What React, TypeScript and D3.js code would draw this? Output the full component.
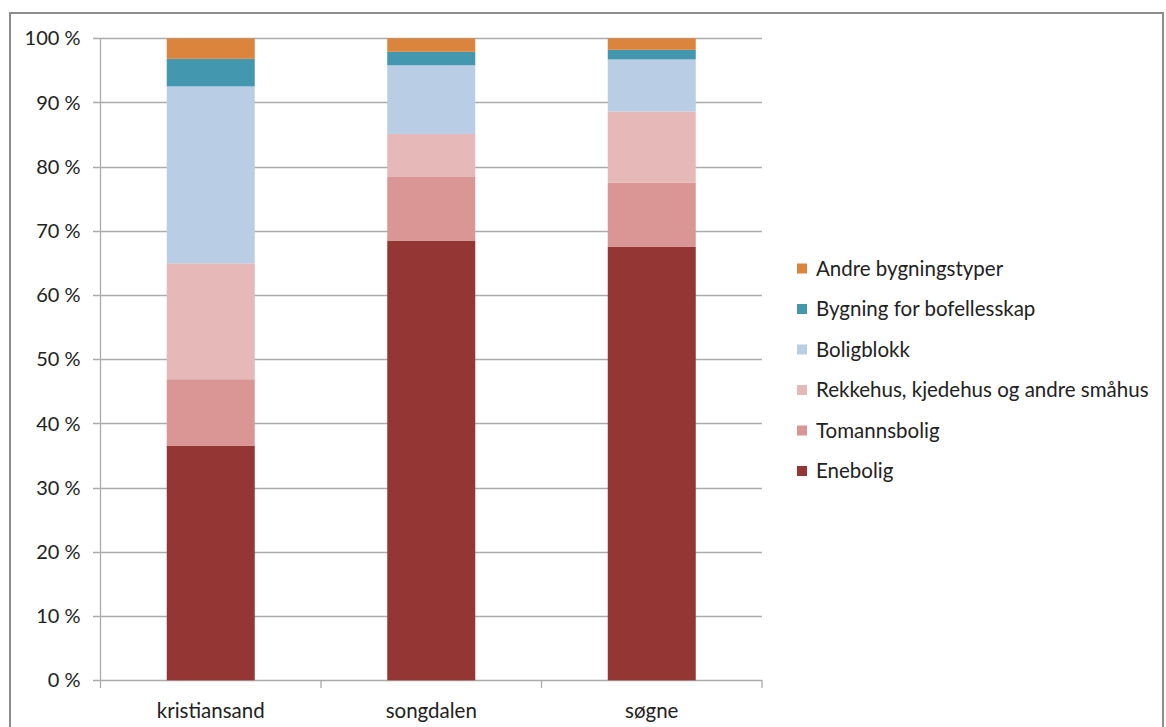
import React from "react";
import * as d3 from "d3";

const categories = ["kristiansand", "songdalen", "søgne"];
const seriesNames = [
  "Enebolig",
  "Tomannsbolig",
  "Rekkehus, kjedehus og andre småhus",
  "Boligblokk",
  "Bygning for bofellesskap",
  "Andre bygningstyper",
];
const enebolig = [36.5, 68.5, 67.5];
const tomannsbolig = [10.4, 9.9, 10.0];
const rekkehus = [18.05, 6.7, 11.1];
const boligblokk = [27.55, 10.7, 8.1];
const bofellesskap = [4.3, 2.1, 1.5];
const andre = [3.2, 2.1, 1.8];
const colors = ["#943634", "#D99694", "#E6B9B8", "#B9CDE5", "#4397AF", "#DB843D"];
const yTicks = [0, 10, 20, 30, 40, 50, 60, 70, 80, 90, 100];

const W = 1166;
const H = 727;
const FONT = "Lato, 'Open Sans', sans-serif";

export default function App() {
  const seriesValues = [enebolig, tomannsbolig, rekkehus, boligblokk, bofellesskap, andre];
  const table = categories.map((c, i) => {
    const row: any = { cat: c };
    seriesNames.forEach((s, j) => (row[s] = seriesValues[j][i]));
    return row;
  });
  const stacked = d3.stack().keys(seriesNames)(table);

  const x = d3.scaleBand().domain(categories).range([100.5, 762]).paddingInner(0.6).paddingOuter(0.3);
  const y = d3.scaleLinear().domain([0, 100]).range([680.3, 38.3]);
  const bw = 88;
  const step = (762 - 100.5) / categories.length;

  return (
    <svg width={W} height={H} style={{ position: "absolute", left: 0, top: 0, background: "#fff" }}>
      <rect x={10} y={13} width={1153} height={730} fill="#fff" stroke="#8c8c8c" strokeWidth={2} />
      {yTicks.map((t) => (
        <g key={t}>
          <line x1={93} x2={762} y1={Math.round(y(t)) + 0.5} y2={Math.round(y(t)) + 0.5} stroke="#ababab" strokeWidth={1.3} />
          <text x={80.5} y={y(t)} dy="0.35em" textAnchor="end" fontFamily={FONT} fontSize={20} fill="#222">
            {t} %
          </text>
        </g>
      ))}
      <line x1={100.5} x2={100.5} y1={38} y2={681} stroke="#ababab" strokeWidth={1.3} />
      {stacked.map((layer, j) => (
        <g key={layer.key} fill={colors[j]}>
          {layer.map((d, i) => {
            const cx = x(categories[i])! + x.bandwidth() / 2;
            return (
              <rect key={i} x={cx - bw / 2} width={bw} y={y(d[1])} height={y(d[0]) - y(d[1])} />
            );
          })}
        </g>
      ))}
      {d3.range(categories.length + 1).map((i) => (
        <line key={i} x1={100.5 + i * step} x2={100.5 + i * step} y1={680} y2={688} stroke="#ababab" strokeWidth={1.3} />
      ))}
      {categories.map((c) => (
        <text key={c} x={x(c)! + x.bandwidth() / 2} y={711} textAnchor="middle" dy="0.35em" fontFamily={FONT} fontSize={20.5} fill="#222">
          {c}
        </text>
      ))}
      {seriesNames
        .map((s, j) => ({ s, j }))
        .reverse()
        .map(({ s, j }, k) => {
          const cy = 268.5 + k * 40.5;
          return (
            <g key={s}>
              <rect x={797} y={cy - 5} width={10} height={10} fill={colors[j]} />
              <text x={816} y={cy} dy="0.35em" fontFamily={FONT} fontSize={20.5} fill="#222">
                {s}
              </text>
            </g>
          );
        })}
    </svg>
  );
}
